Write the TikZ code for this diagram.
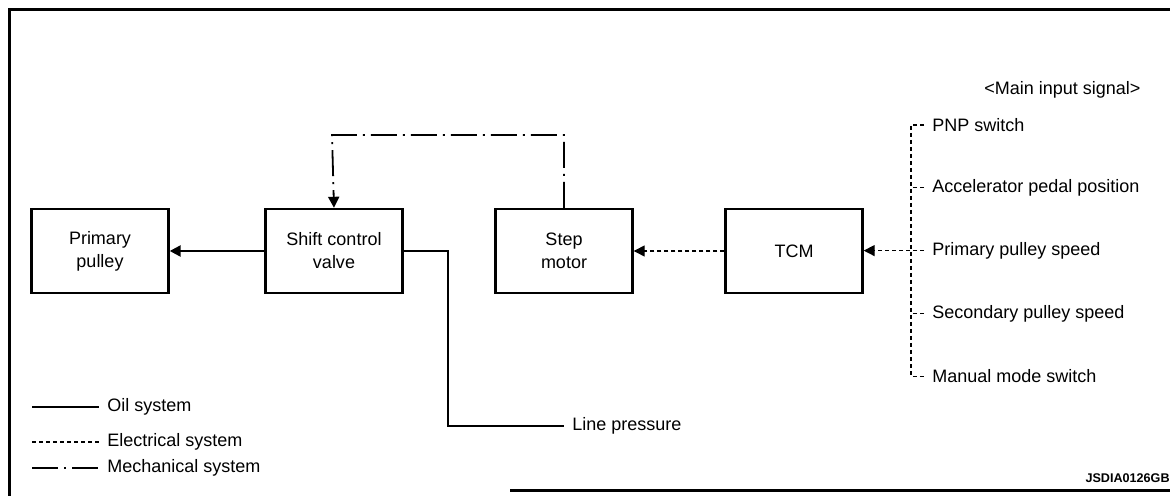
\documentclass[tikz,border=0pt]{standalone}
\usepackage{fontspec}
\setmainfont{Liberation Sans}
\usepackage{tikz}
\usetikzlibrary{arrows.meta,positioning}
\tikzset{
  blockbox/.style={draw, line width=1.2pt, minimum width=68.5pt, minimum height=42pt, align=center, inner sep=2pt, font=\fontsize{9}{11.5}\selectfont},
  sigtext/.style={inner ysep=0pt, inner xsep=4pt, anchor=west, font=\fontsize{9}{11}\selectfont},
  oilline/.style={line width=1.2pt},
  elecline/.style={line width=0.7pt, dash pattern=on 2.2pt off 1.3pt},
  mechline/.style={line width=0.9pt, dash pattern=on 13pt off 3pt on 1pt off 3pt},
  headed/.style={-{Triangle[length=5.5pt, width=5.5pt]}},
  framestroke/.style={line width=1.5pt}
}
\begin{document}
\begin{tikzpicture}[x=0.5pt, y=-0.5pt, node distance=45.3pt]
  \useasboundingbox (0,0) rectangle (1170,496);
  \draw[framestroke] (1170,10) -- (9,10) -- (9,496);
  \draw[framestroke] (510,490) -- (1170,490);

  \node[blockbox] (pulley) at (100,251) {Primary\\pulley};
  \node[blockbox, right=47.3pt of pulley] (valve) {Shift control\\valve};
  \node[blockbox, right=of valve] (motor) {Step\\motor};
  \node[blockbox, right=of motor] (tcm) {TCM};

  \node[sigtext] (mainsig) at (976,90) {<Main input signal>};
  \node[sigtext] (pnp) at (924,125) {PNP switch};
  \node[sigtext, below=31.4pt of pnp.west, anchor=west] (accel) {Accelerator pedal position};
  \node[sigtext, below=31.4pt of accel.west, anchor=west] (primary) {Primary pulley speed};
  \node[sigtext, below=31.4pt of primary.west, anchor=west] (second) {Secondary pulley speed};
  \node[sigtext, below=31.4pt of second.west, anchor=west] (manual) {Manual mode switch};
  \node[sigtext] (linep) at (564,426) {Line pressure};

  \node[sigtext] (oilkey) at (99,407) {Oil system};
  \node[sigtext] (eleckey) at (99,442) {Electrical system};
  \node[sigtext] (mechkey) at (99,468) {Mechanical system};
  \node[anchor=east, inner sep=0pt, font=\bfseries\fontsize{6.3}{7}\selectfont] (figid) at (1170,478) {JSDIA0126GB};

  \coordinate (bus) at (911,0);
  \coordinate (mechtop) at (332,135);
  \coordinate (lpturn) at (448,426);
  \coordinate (keystart) at (32,0);

  \draw[oilline, headed] (valve.west) -- (pulley.east);
  \draw[oilline] (valve.east) -| (lpturn) -- (linep.west);
  \draw[mechline, headed] (motor.north) |- (mechtop) -- (valve.north);
  \draw[elecline, headed] (tcm.west) -- (motor.east);
  \draw[elecline, headed] (primary.west) -- (primary.west -| tcm.east);
  \draw[elecline] (pnp.west) -- (pnp.west -| bus) |- (manual.west);
  \draw[elecline] (accel.west) -- (accel.west -| bus);
  \draw[elecline] (second.west) -- (second.west -| bus);

  \draw[oilline] (oilkey.west -| keystart) -- (oilkey.west);
  \draw[elecline] (eleckey.west -| keystart) -- (eleckey.west);
  \draw[mechline] (mechkey.west -| keystart) -- (mechkey.west);
\end{tikzpicture}
\end{document}
